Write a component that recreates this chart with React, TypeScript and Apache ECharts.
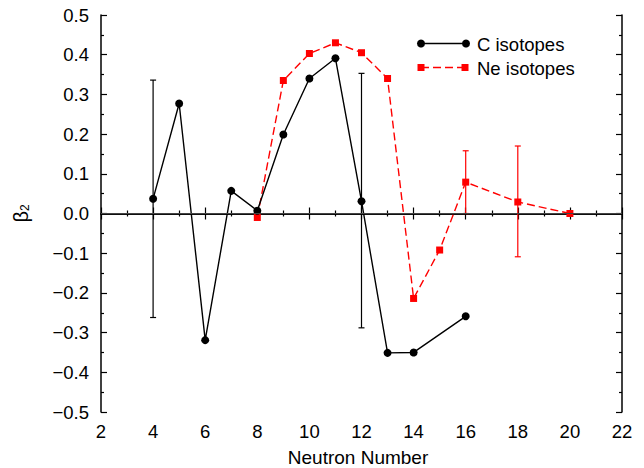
import React, { useEffect, useRef } from "react";
import * as echarts from "echarts";

const xTicks = [2, 4, 6, 8, 10, 12, 14, 16, 18, 20, 22];
const cN = [4, 5, 6, 7, 8, 9, 10, 11, 12, 13, 14, 16];
const cBeta = [0.037, 0.277, -0.319, 0.057, 0.007, 0.199, 0.34, 0.391, 0.031, -0.351, -0.35, -0.259];
const neN = [8, 9, 10, 11, 12, 13, 14, 15, 16, 18, 20];
const neBeta = [-0.01, 0.335, 0.403, 0.43, 0.405, 0.34, -0.214, -0.092, 0.079, 0.029, 0.0];
// error bars: [N, low, high]
const cErrN = [4, 12];
const cErrLow = [-0.262, -0.288];
const cErrHigh = [0.336, 0.353];
const neErrN = [16, 18];
const neErrLow = [0.0, -0.109];
const neErrHigh = [0.158, 0.17];

const FONT = "Liberation Sans";
const RED = "#ff0000";

function errSeries(ns: number[], lows: number[], highs: number[], color: string) {
  return {
    type: "custom",
    silent: true,
    z: 1,
    data: ns.map((n, i) => [n, lows[i], highs[i]]),
    renderItem: (params: any, api: any) => {
      const x = api.value(0);
      const pHi = api.coord([x, api.value(2)]);
      const pLo = api.coord([x, api.value(1)]);
      const w = 3;
      const st = { stroke: color, lineWidth: 1.2 };
      return {
        type: "group",
        children: [
          { type: "line", shape: { x1: pHi[0], y1: pHi[1], x2: pLo[0], y2: pLo[1] }, style: st },
          { type: "line", shape: { x1: pHi[0] - w, y1: pHi[1], x2: pHi[0] + w, y2: pHi[1] }, style: st },
          { type: "line", shape: { x1: pLo[0] - w, y1: pLo[1], x2: pLo[0] + w, y2: pLo[1] }, style: st },
        ],
      };
    },
  };
}

export default function App() {
  const ref = useRef<HTMLDivElement>(null);
  useEffect(() => {
    const chart = echarts.init(ref.current!, null, { renderer: "svg" });
    const axisCommon = {
      axisLine: { lineStyle: { color: "#000", width: 1.5 } },
      axisTick: { inside: true, length: 6, lineStyle: { color: "#000", width: 1.2 } },
      minorTick: { show: true, splitNumber: 2, length: 3, lineStyle: { color: "#000", width: 1.2 } },
      splitLine: { show: false },
    };
    const fmtY = (v: number) => {
      const s = Math.abs(v) < 1e-9 ? "0.0" : v.toFixed(1);
      return s.replace("-", "\u2212");
    };
    chart.setOption({
      animation: false,
      backgroundColor: "#fff",
      textStyle: { fontFamily: FONT },
      grid: { left: 101, right: 22, top: 15, bottom: 56, outerBoundsMode: "none", containLabel: false },
      xAxis: [
        {
          type: "value",
          min: xTicks[0],
          max: xTicks[xTicks.length - 1],
          interval: 2,
          position: "bottom",
          name: "Neutron Number",
          nameLocation: "middle",
          nameGap: 36,
          nameTextStyle: { fontFamily: FONT, fontSize: 19, color: "#000", padding: [0, 7, 0, 0] },
          axisLabel: { fontFamily: FONT, fontSize: 18.5, color: "#000", margin: 10 },
          ...axisCommon,
        },
        {
          type: "value",
          min: xTicks[0],
          max: xTicks[xTicks.length - 1],
          interval: 2,
          position: "top",
          axisLabel: { show: false },
          ...axisCommon,
        },
      ],
      yAxis: [
        {
          type: "value",
          min: -0.5,
          max: 0.5,
          interval: 0.1,
          position: "left",
          name: "{b|β}{s|2}",
          nameLocation: "middle",
          nameRotate: 90,
          nameGap: 70,
          nameTextStyle: {
            color: "#000",
            rich: {
              b: { fontFamily: FONT, fontSize: 20, color: "#000" },
              s: { fontFamily: FONT, fontSize: 12, color: "#000", verticalAlign: "bottom", padding: [9, 0, 0, 0] },
            },
          },
          axisLabel: { fontFamily: FONT, fontSize: 18.5, color: "#000", margin: 12, formatter: fmtY },
          ...axisCommon,
        },
        {
          type: "value",
          min: -0.5,
          max: 0.5,
          interval: 0.1,
          position: "right",
          axisLabel: { show: false },
          ...axisCommon,
        },
      ],
      series: [
        errSeries(cErrN, cErrLow, cErrHigh, "#000"),
        errSeries(neErrN, neErrLow, neErrHigh, RED),
        {
          type: "line",
          name: "C isotopes",
          data: cN.map((n, i) => [n, cBeta[i]]),
          symbol: "circle",
          symbolSize: 8,
          z: 3,
          lineStyle: { color: "#000", width: 1.4 },
          itemStyle: { color: "#000" },
          markLine: {
            silent: true,
            symbol: ["none", "none"],
            label: { show: false },
            lineStyle: { color: "#444", width: 1, type: "solid" },
            data: [{ yAxis: 0 }],
          },
        },
        {
          type: "line",
          name: "Ne isotopes",
          data: neN.map((n, i) => [n, neBeta[i]]),
          symbol: "rect",
          symbolSize: 7,
          z: 2,
          lineStyle: { color: RED, width: 1.4, type: [8, 4] },
          itemStyle: { color: RED },
        },
      ],
      graphic: [
        { type: "line", shape: { x1: 421, y1: 43.5, x2: 466, y2: 43.5 }, style: { stroke: "#000", lineWidth: 1.4 } },
        { type: "circle", shape: { cx: 421, cy: 43.5, r: 4 }, style: { fill: "#000" } },
        { type: "circle", shape: { cx: 466, cy: 43.5, r: 4 }, style: { fill: "#000" } },
        {
          type: "text",
          x: 477,
          y: 44,
          style: { text: "C isotopes", fontFamily: FONT, fontSize: 18.5, fill: "#000", verticalAlign: "middle" },
        },
        { type: "line", shape: { x1: 421, y1: 67.5, x2: 465, y2: 67.5 }, style: { stroke: RED, lineWidth: 1.4, lineDash: [8, 4] } },
        { type: "rect", shape: { x: 417.5, y: 64, width: 7, height: 7 }, style: { fill: RED } },
        { type: "rect", shape: { x: 461.5, y: 64, width: 7, height: 7 }, style: { fill: RED } },
        {
          type: "text",
          x: 477,
          y: 68,
          style: { text: "Ne isotopes", fontFamily: FONT, fontSize: 18.5, fill: "#000", verticalAlign: "middle" },
        },
      ],
    });
    return () => chart.dispose();
  }, []);
  return <div ref={ref} style={{ position: "fixed", left: 0, top: 0, width: 644, height: 468 }} />;
}
